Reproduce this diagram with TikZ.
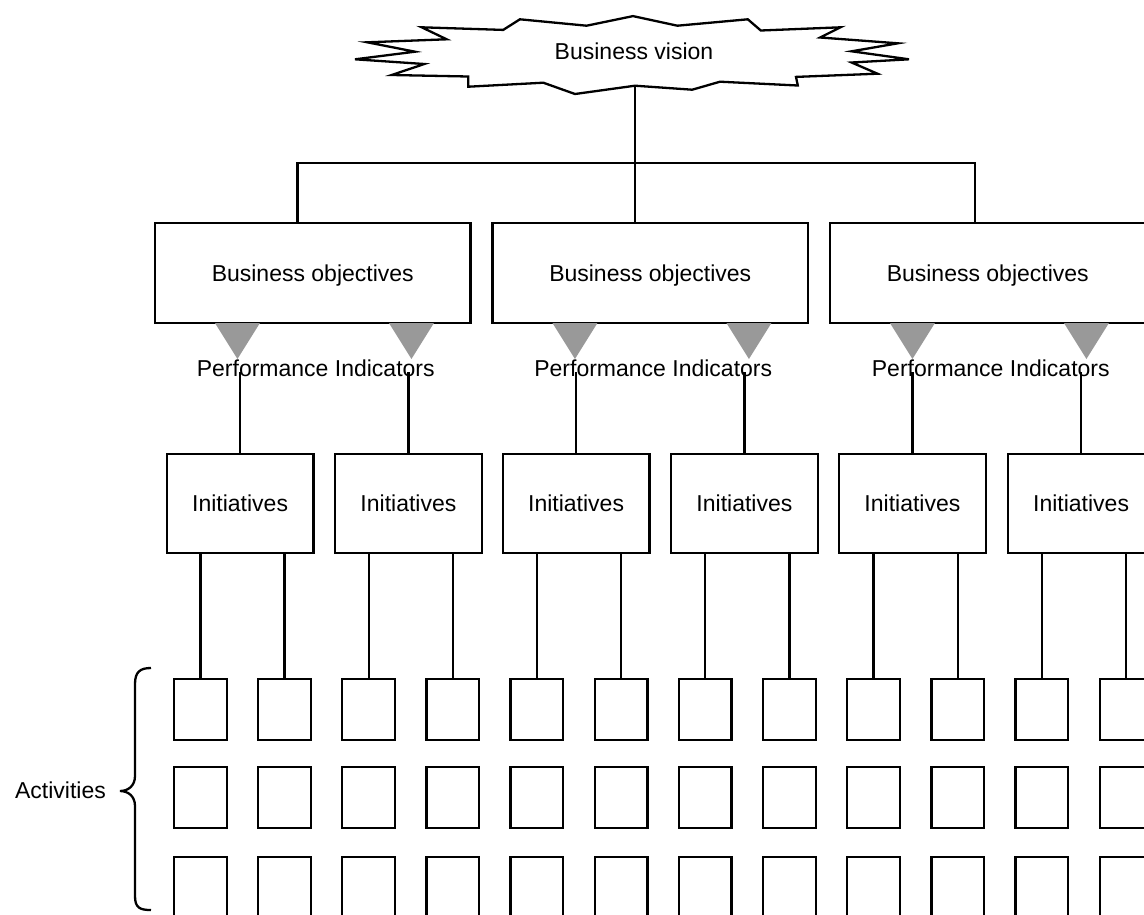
\documentclass[tikz,border=0pt]{standalone}
\usepackage{fontspec}
\setmainfont{Liberation Sans}
\newcommand\dfs{\fontsize{23}{27}\selectfont}
\definecolor{trigray}{RGB}{153,153,153}
\tikzset{
  conn/.style={line width=2.3pt},
  lbl/.style={inner sep=0pt, font=\dfs},
  bobox/.style={draw, line width=2.3pt, inner sep=0pt, minimum width=315.5pt, minimum height=99.4pt, text height=16.6pt, text depth=0pt, font=\dfs},
  inibox/.style={draw, line width=2.3pt, inner sep=0pt, minimum width=146.8pt, minimum height=99pt, text height=16.6pt, text depth=0pt, font=\dfs},
  actbox/.style={draw, line width=2.3pt, inner sep=0pt, minimum width=52.7pt, minimum height=61pt},
  tri/.style={fill=trigray},
  starline/.style={draw, line width=2.3pt, fill=white}
}
\begin{document}
\begin{tikzpicture}[x=1pt,y=-1pt]
\useasboundingbox (0,0) rectangle (1144,914);
\clip (0,0) rectangle (1144,914);
% vision star
\path[starline] (421.7,27.3) -- (503.2,29.9) -- (519.9,19.3) -- (586.6,25.7) -- (633,16.1) -- (677.4,25.7) -- (747.8,19.3) -- (760.8,30.5) -- (840.5,27.3) -- (820.1,37.5) -- (897.9,43.3) -- (851.6,51.3) -- (909,59.3) -- (851.6,62.5) -- (877.5,73.7) -- (796,76.9) -- (797.8,85.5) -- (720,81.7) -- (692.2,89.7) -- (635,85.7) -- (575,94) -- (543.3,82.7) -- (468.3,86.7) -- (468.3,76.5) -- (391.7,75) -- (424.3,64) -- (355,59.3) -- (415,51.7) -- (367.3,42.3) -- (446.7,39.3) -- cycle;
\node[lbl, anchor=base] (bv) at (634,59.5) {Business vision};
\coordinate (vb) at (635,85.7);
\coordinate (hub) at (635,163.3);
% objectives
\foreach \i/\x in {1/312.75,2/650.25,3/987.75} {
  \node[bobox] (bo\i) at (\x,273) {Business objectives};
  \fill[tri] (\x-97.8,323) -- ++(45,0) -- ++(-22.5,36) -- cycle;
  \fill[tri] (\x+76.2,323) -- ++(45,0) -- ++(-22.5,36) -- cycle;
  \node[lbl, anchor=base] (pi\i) at (\x+3,376.7) {Performance Indicators};
}
\draw[conn] (vb) -- (vb |- bo2.north);
\draw[conn] ([xshift=-15.3pt]bo1.north) |- (hub) -| ([xshift=-12.8pt]bo3.north);
% initiatives
\foreach \k/\x in {1/240.1,2/408.4,3/576.1,4/744.4,5/912.4,6/1081.1} {
  \node[inibox] (ini\k) at (\x,503.5) {Initiatives};
  \draw[conn] (ini\k.north) -- ++(0,-81);
}
% activities
\foreach \c in {0,...,11} {
  \foreach \r/\y in {1/709.5,2/797.8,3/887.2} {
    \node[actbox] (a\r-\c) at ({200.35+84.15*\c},\y) {};
  }
  \pgfmathtruncatemacro\k{floor(\c/2)+1}
  \draw[conn] (a1-\c.north) -- (a1-\c.north |- ini\k.south);
}
% brace
\draw[conn] (151,668) .. controls (140,668) and (135,672) .. (135,684) -- (135,776) .. controls (135,786) and (128,791) .. (120,791) .. controls (128,791) and (135,796) .. (135,806) -- (135,896) .. controls (135,908) and (140,910) .. (151,910);
\node[lbl, anchor=base] (act) at (60.5,798.3) {Activities};
\end{tikzpicture}
\end{document}
